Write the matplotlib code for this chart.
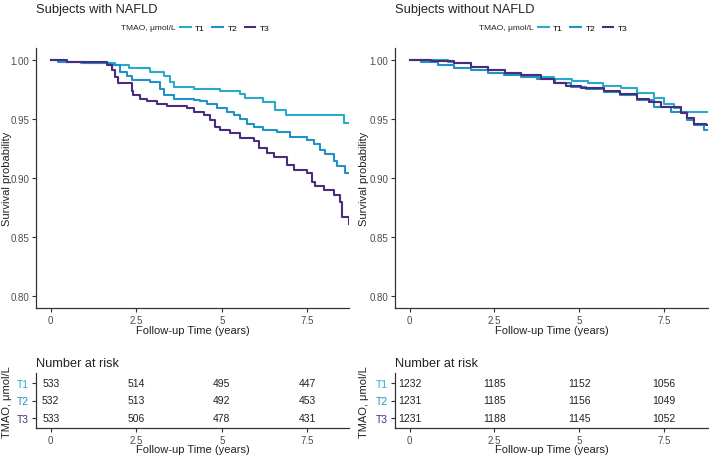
import matplotlib
matplotlib.use("Agg")
import matplotlib.pyplot as plt
from matplotlib.lines import Line2D

plt.rcParams['font.family'] = ['Liberation Sans', 'DejaVu Sans']

groups = ["T1", "T2", "T3"]
colors = ["#2AAAC8", "#2390C6", "#4B2B7C"]
risk_times = [0, 2.5, 5, 7.5]

# subjects with NAFLD
nafld_t1_time = [0, 0.27, 0.9, 1.88, 2.3, 2.91, 3.30, 3.49, 3.59, 4.18, 4.96, 5.54, 5.69, 6.22, 6.57, 6.88, 8.57, 8.73]
nafld_t1_surv = [1.0, 0.998, 0.997, 0.9955, 0.993, 0.990, 0.9865, 0.9815, 0.977, 0.975, 0.9735, 0.971, 0.968, 0.9646, 0.9576, 0.953, 0.9463, 0.9463]
nafld_t2_time = [0, 0.22, 0.96, 1.74, 2.03, 2.22, 2.37, 2.91, 3.20, 3.30, 3.59, 4.18, 4.37, 4.57, 4.86, 5.15, 5.35, 5.54,
                 5.74, 5.93, 6.22, 6.61, 7.00, 7.49, 7.69, 7.88, 8.03, 8.27, 8.37, 8.61, 8.73]
nafld_t2_surv = [1.0, 0.998, 0.997, 0.996, 0.990, 0.986, 0.983, 0.981, 0.975, 0.970, 0.967, 0.966, 0.965, 0.963, 0.9596, 0.956, 0.953, 0.950,
                 0.946, 0.943, 0.941, 0.939, 0.935, 0.932, 0.929, 0.924, 0.920, 0.914, 0.910, 0.904, 0.904]
nafld_t3_time = [0, 0.47, 1.64, 1.79, 1.88, 1.98, 2.37, 2.42, 2.61, 2.81, 3.10, 3.40, 3.98, 4.18, 4.47, 4.66, 4.81, 4.96, 5.25, 5.54,
                 5.93, 6.08, 6.32, 6.52, 6.91, 7.10, 7.49, 7.64, 7.74, 7.98, 8.27, 8.47, 8.52, 8.71, 8.73]
nafld_t3_surv = [1.0, 0.998, 0.9955, 0.991, 0.9857, 0.980, 0.974, 0.970, 0.967, 0.965, 0.963, 0.961, 0.9596, 0.956, 0.953, 0.949, 0.9435, 0.9407, 0.938, 0.934,
                 0.931, 0.925, 0.921, 0.918, 0.911, 0.907, 0.904, 0.897, 0.893, 0.890, 0.886, 0.880, 0.867, 0.861, 0.861]

# subjects without NAFLD
no_t1_time = [0, 1.13, 1.32, 1.8, 2.30, 2.8, 3.28, 3.8, 4.26, 4.8, 5.25, 5.7, 6.23, 6.72, 7.21, 7.50, 7.79, 7.99, 8.8]
no_t1_surv = [1.0, 0.998, 0.997, 0.994, 0.991, 0.989, 0.987, 0.9855, 0.984, 0.982, 0.980, 0.978, 0.976, 0.972, 0.968, 0.963, 0.959, 0.956, 0.956]
no_t2_time = [0, 0.34, 0.83, 1.3, 1.81, 2.3, 2.79, 3.3, 3.77, 4.3, 4.75, 5.2, 5.74, 6.2, 6.72, 7.21, 7.70, 8.19, 8.38, 8.68, 8.8]
no_t2_surv = [1.0, 0.9985, 0.9955, 0.993, 0.991, 0.989, 0.987, 0.9855, 0.984, 0.980, 0.977, 0.975, 0.973, 0.970, 0.966, 0.960, 0.956, 0.949, 0.945, 0.9407, 0.9407]
no_t3_time = [0, 0.64, 1.32, 1.8, 2.30, 2.8, 3.28, 3.87, 4.26, 4.6, 5.05, 5.74, 6.2, 6.72, 7.05, 7.40, 7.99, 8.19, 8.38, 8.73, 8.8]
no_t3_surv = [1.0, 0.999, 0.997, 0.994, 0.991, 0.989, 0.987, 0.984, 0.980, 0.978, 0.976, 0.974, 0.971, 0.967, 0.964, 0.960, 0.955, 0.9505, 0.946, 0.945, 0.945]

nafld_risk = [[533, 514, 495, 447], [532, 513, 492, 453], [533, 506, 478, 431]]
no_risk = [[1232, 1185, 1152, 1056], [1231, 1185, 1156, 1049], [1231, 1188, 1145, 1052]]

panels = [
    dict(title="Subjects with NAFLD", left=36, right=349, xmax=8.72, ylab_x=7,
         curves=[(nafld_t1_time, nafld_t1_surv), (nafld_t2_time, nafld_t2_surv), (nafld_t3_time, nafld_t3_surv)],
         risk=nafld_risk, leg_x=121),
    dict(title="Subjects without NAFLD", left=395, right=708, xmax=8.8, ylab_x=364,
         curves=[(no_t1_time, no_t1_surv), (no_t2_time, no_t2_surv), (no_t3_time, no_t3_surv)],
         risk=no_risk, leg_x=479),
]

W, H = 709, 456
fig = plt.figure(figsize=(W / 100, H / 100), dpi=100)
spine_col = "#333333"
text_col = "#4D4D4D"
dark = "#222222"


def style_axes(ax):
    for s in ["top", "right"]:
        ax.spines[s].set_visible(False)
    for s in ["left", "bottom"]:
        ax.spines[s].set_color(spine_col)
        ax.spines[s].set_linewidth(0.9)
    ax.tick_params(length=3, width=0.8, color=spine_col, labelsize=7, labelcolor=text_col, pad=2)


def place_labels(ax, p, top, bottom, xlab_y, ylab_y):
    wpx = p["right"] - p["left"]
    hpx = bottom - top
    ax.xaxis.set_label_coords(0.5, (bottom - xlab_y) / hpx)
    ax.xaxis.label.set_va("center")
    ax.yaxis.set_label_coords((p["ylab_x"] - p["left"]) / wpx, (bottom - ylab_y) / hpx)
    ax.yaxis.label.set_va("center")


for p in panels:
    x0 = p["left"] / W
    w = (p["right"] - p["left"]) / W
    # main survival axes
    ax = fig.add_axes([x0, 1 - 309 / H, w, (309 - 49) / H])
    for (t, s), c, g in zip(p["curves"], colors, groups):
        ax.step(t, s, where="post", color=c, lw=1.5, label=g)
    ax.set_xlim(-0.43, p["xmax"])
    ax.set_ylim(0.79, 1.01)
    ax.set_yticks([0.80, 0.85, 0.90, 0.95, 1.00])
    ax.set_yticklabels(["0.80", "0.85", "0.90", "0.95", "1.00"])
    ax.set_xticks(risk_times)
    ax.set_xticklabels(["0", "2.5", "5", "7.5"])
    style_axes(ax)
    ax.set_xlabel("Follow-up Time (years)", fontsize=8, color=dark)
    ax.set_ylabel("Survival probability", fontsize=8, color=dark)
    place_labels(ax, p, 49, 309, 331, 179)
    fig.text(x0, 1 - 13 / H, p["title"], fontsize=9.3, color=dark, va="baseline", ha="left")

    # legend
    fig.text(p["leg_x"] / W, 1 - 29 / H, "TMAO, μmol/L", fontsize=6, color=dark, va="center", ha="left")
    handles = [Line2D([], [], color=c, lw=1.5) for c in colors]
    fig.legend(handles, groups, loc="center left", bbox_to_anchor=((p["leg_x"] + 59) / W, 1 - 29 / H),
               ncol=3, frameon=False, fontsize=6, handlelength=1.3, handletextpad=0.5,
               columnspacing=0.9, borderpad=0, borderaxespad=0)

    # risk table
    rax = fig.add_axes([x0, 1 - 429 / H, w, 55 / H])
    for i, row in enumerate(p["risk"]):
        for tx, n in zip(risk_times, row):
            rax.text(tx, 3 - i, str(n), ha="center", va="center", fontsize=7.5, color=dark)
    rax.set_xlim(-0.43, p["xmax"])
    rax.set_ylim(0.4, 3.6)
    rax.set_yticks([3, 2, 1])
    rax.set_yticklabels(groups)
    rax.set_xticks(risk_times)
    rax.set_xticklabels(["0", "2.5", "5", "7.5"])
    style_axes(rax)
    rax.tick_params(axis="y", labelsize=7.5)
    for lab, c in zip(rax.get_yticklabels(), colors):
        lab.set_color(c)
    rax.set_xlabel("Follow-up Time (years)", fontsize=8, color=dark)
    rax.set_ylabel("TMAO, μmol/L", fontsize=8, color=dark)
    place_labels(rax, p, 374, 429, 450.5, 402)
    fig.text(x0, 1 - 367 / H, "Number at risk", fontsize=9.2, color=dark, va="baseline", ha="left")

fig.savefig("out.png", dpi=100)
